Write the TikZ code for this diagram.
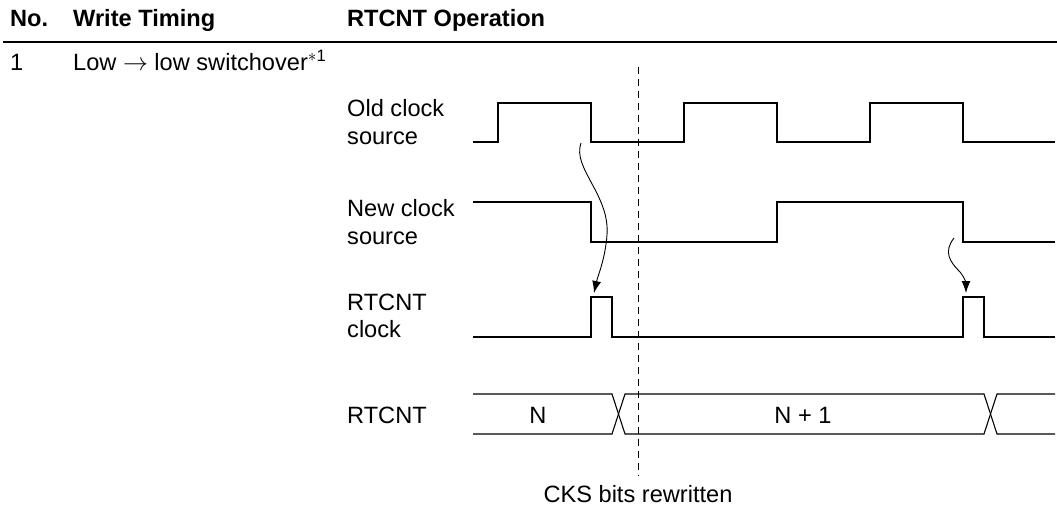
\documentclass[tikz,border=0pt]{standalone}
\usepackage{fontspec}
\setmainfont{Liberation Sans}
\usetikzlibrary{arrows.meta}

\begin{document}
\begin{tikzpicture}[x=1pt, y=-1pt,
  every node/.style={inner sep=0pt, font=\fontsize{23.6}{27.2}\selectfont},
  hdr/.style={anchor=base west, font=\fontsize{23.6}{27.2}\selectfont\bfseries},
  txt/.style={anchor=base west},
  lbl/.style={anchor=north west, align=left},
  wave/.style={line width=1.3pt},
  bus/.style={line width=1.1pt},
  cause/.style={line width=0.9pt, -{Latex[length=12pt,width=9pt]}}]

\useasboundingbox (0,0) rectangle (1057,508);

% Table head
\node[hdr] (hno) at (10,26.5) {No.};
\node[hdr] (htiming) at (73,26.5) {Write Timing};
\node[hdr] (hop) at (347,26.5) {RTCNT Operation};
\coordinate (rulel) at (3,42);
\coordinate (ruler) at (1057,42);
\draw[line width=1.3pt] (rulel) -- (ruler);

% Row 1
\node[txt] (rowno) at (10,71) {1};
\node[txt] (rowtxt) at (73,71) {Low $\rightarrow$ low switchover\textsuperscript{$*$1}};

% Signal names
\node[lbl] (lblold) at (347,99.6) {Old clock\\source};
\node[lbl] (lblnew) at (347,199.6) {New clock\\source};
\node[lbl] (lblclk) at (347,293.6) {RTCNT\\clock};
\node[txt] (lblcnt) at (347,423.5) {RTCNT};

% Old clock source
\draw[wave] (473,142) \foreach \t in {498,684,870} {
   -- (\t,142) -- (\t,103) -- ({\t+93},103) -- ({\t+93},142)} -- (1055,142);

% New clock source
\draw[wave] (473,202) -- (591,202) -- (591,242) -- (777,242) -- (777,202)
   -- (963,202) -- (963,242) -- (1055,242);

% RTCNT clock
\draw[wave] (473,337) \foreach \t in {591,963} {
   -- (\t,337) -- (\t,297) -- ({\t+21},297) -- ({\t+21},337)} -- (1055,337);

% RTCNT
\draw[bus] (473,394) -- (612,394) -- (625,434) -- (984,434) -- (997,394) -- (1055,394);
\draw[bus] (473,434) -- (612,434) -- (625,394) -- (984,394) -- (997,434) -- (1055,434);
\node[anchor=base] (valn) at (538,423.5) {N};
\node[anchor=base] (valn1) at (803,423.5) {N + 1};

% CKS rewrite point
\coordinate (dtop) at (638,67);
\coordinate (dbot) at (638,476);
\draw[line width=0.8pt, dash pattern=on 7pt off 5pt] (dtop) -- (dbot);
\node[anchor=base] (cks) at (638,502) {CKS bits rewritten};

% Edges
\coordinate (a1s) at (581,143);
\coordinate (a1e) at (594,293);
\draw[cause] (a1s) .. controls (572,168) and (610,195) .. (607,235)
   .. controls (605,260) and (598,275) .. (a1e);
\coordinate (a2s) at (954,238);
\coordinate (a2e) at (966,293);
\draw[cause] (a2s) .. controls (943,252) and (950,262) .. (960,272)
   .. controls (965,278) and (966,284) .. (a2e);
\end{tikzpicture}
\end{document}
